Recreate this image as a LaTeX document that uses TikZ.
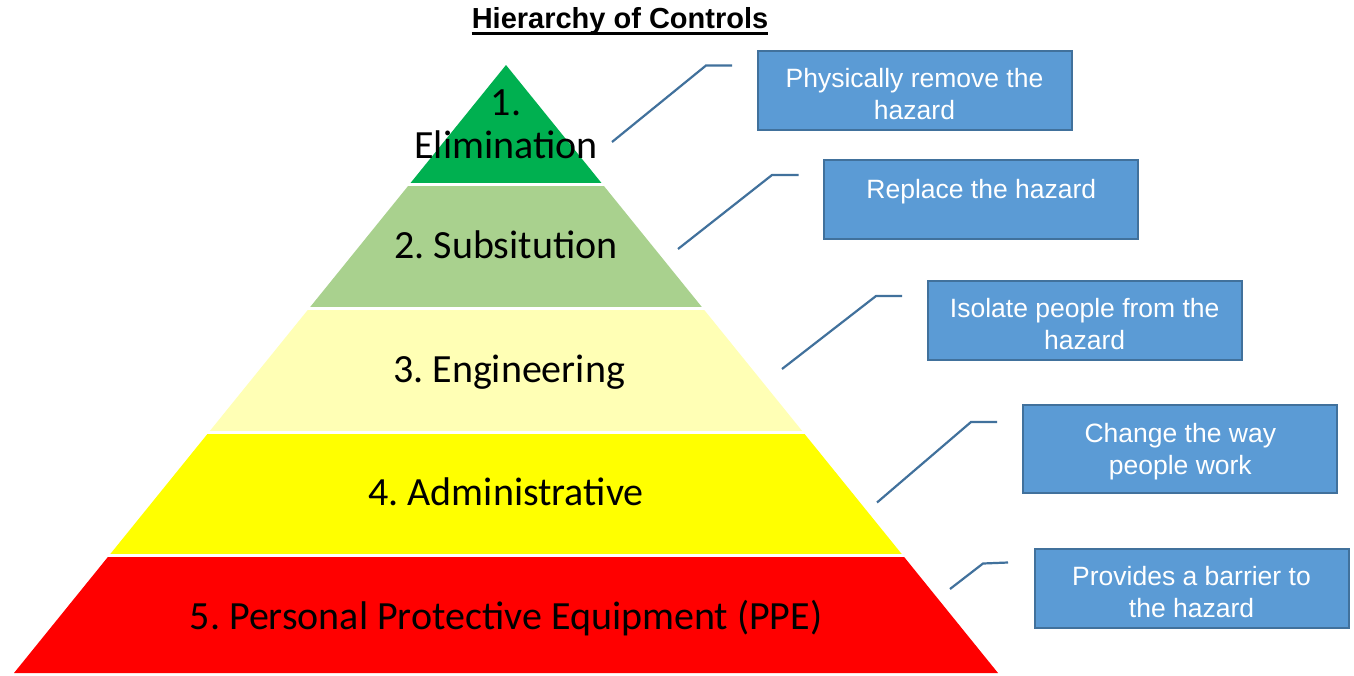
\documentclass[tikz,border=0pt]{standalone}
\usepackage{fontspec}
\setmainfont{Liberation Sans}
\newfontfamily\calibri{Carlito}
\usepackage{xcolor}
\definecolor{elimgreen}{HTML}{00B050}
\definecolor{subsgreen}{HTML}{A9D18E}
\definecolor{palelemon}{HTML}{FFFFB5}
\definecolor{brightyellow}{HTML}{FFFF00}
\definecolor{ppered}{HTML}{FF0000}
\definecolor{boxblue}{HTML}{5B9BD5}
\definecolor{darkblue}{HTML}{41719C}
\usepackage{tikz}
\usetikzlibrary{calc}
\frenchspacing
\tikzset{
  level/.style={font=\calibri\fontsize{40}{43}\selectfont,align=center,inner sep=0pt},
  infobox/.style={rectangle,draw=darkblue,line width=2pt,fill=boxblue,text=white,
    minimum width=314pt,minimum height=79pt,align=center,inner sep=0pt,
    text height=58pt,text depth=0pt,font=\fontsize{26.5}{32}\selectfont},
  leader/.style={draw=darkblue,line width=2.2pt}
}

\begin{document}
\begin{tikzpicture}[x=1pt,y=-1pt]
  \fill[white] (0,0) rectangle (1354,675);

  % the five bands of the pyramid
  \begin{scope}
    \clip (506,65) -- (14,673) -- (998,673) -- cycle;
    \fill[elimgreen] (0,60) rectangle (1354,183.3);
    \fill[subsgreen] (0,186.3) rectangle (1354,307);
    \fill[palelemon] (0,310) rectangle (1354,430.5);
    \fill[brightyellow] (0,433.5) rectangle (1354,554);
    \fill[ppered] (0,557.3) rectangle (1354,675);
  \end{scope}

  \node[anchor=base,inner sep=0pt,font=\bfseries\fontsize{29}{34}\selectfont] (title) at (620,28.3) {Hierarchy of Controls};
  \draw[line width=3pt] ($(title.base west)+(0,5.2)$) -- ($(title.base east)+(0,5.2)$);

  \node[level] (elim) at (506,124) {1.\\Elimination};
  \node[level,anchor=base] (subs) at (506,258.3) {2. Subsitution};
  \node[level,anchor=base] (eng) at (509,382) {3. Engineering};
  \node[level,anchor=base] (admin) at (506,505.5) {4. Administrative};
  \node[level,anchor=base] (ppe) at (506,629.3) {5. Personal Protective Equipment (PPE)};

  \node[infobox] (remove) at (914.5,90.5) {Physically remove the\\hazard};
  \node[infobox,text height=62pt] (replace) at (981.3,199.7) {Replace the hazard\\\mbox{}};
  \node[infobox] (isolate) at (1084.7,320.3) {Isolate people from the\\hazard};
  \node[infobox,minimum height=88pt,text height=51pt] (change) at (1180.3,449) {Change the way\\people work};
  \node[infobox] (barrier) at (1191.5,588) {Provides a barrier to\\the hazard};

  % leader lines
  \coordinate (elim-tip) at (612,142);
  \coordinate (elim-bend) at (706,65.5);
  \coordinate (elim-end) at (732,65.5);
  \coordinate (subs-tip) at (678,249);
  \coordinate (subs-bend) at (772,175);
  \coordinate (subs-end) at (798.5,175);
  \coordinate (eng-tip) at (782,369);
  \coordinate (eng-bend) at (876,296);
  \coordinate (eng-end) at (902,296);
  \coordinate (admin-tip) at (877,502.5);
  \coordinate (admin-bend) at (971,422);
  \coordinate (admin-end) at (997,422);
  \coordinate (ppe-tip) at (950,589);
  \coordinate (ppe-bend) at (983,563.5);
  \coordinate (ppe-end) at (1008,562.5);

  \draw[leader] (elim-tip) -- (elim-bend) -- (elim-end);
  \draw[leader] (subs-tip) -- (subs-bend) -- (subs-end);
  \draw[leader] (eng-tip) -- (eng-bend) -- (eng-end);
  \draw[leader] (admin-tip) -- (admin-bend) -- (admin-end);
  \draw[leader] (ppe-tip) -- (ppe-bend) -- (ppe-end);
\end{tikzpicture}
\end{document}
